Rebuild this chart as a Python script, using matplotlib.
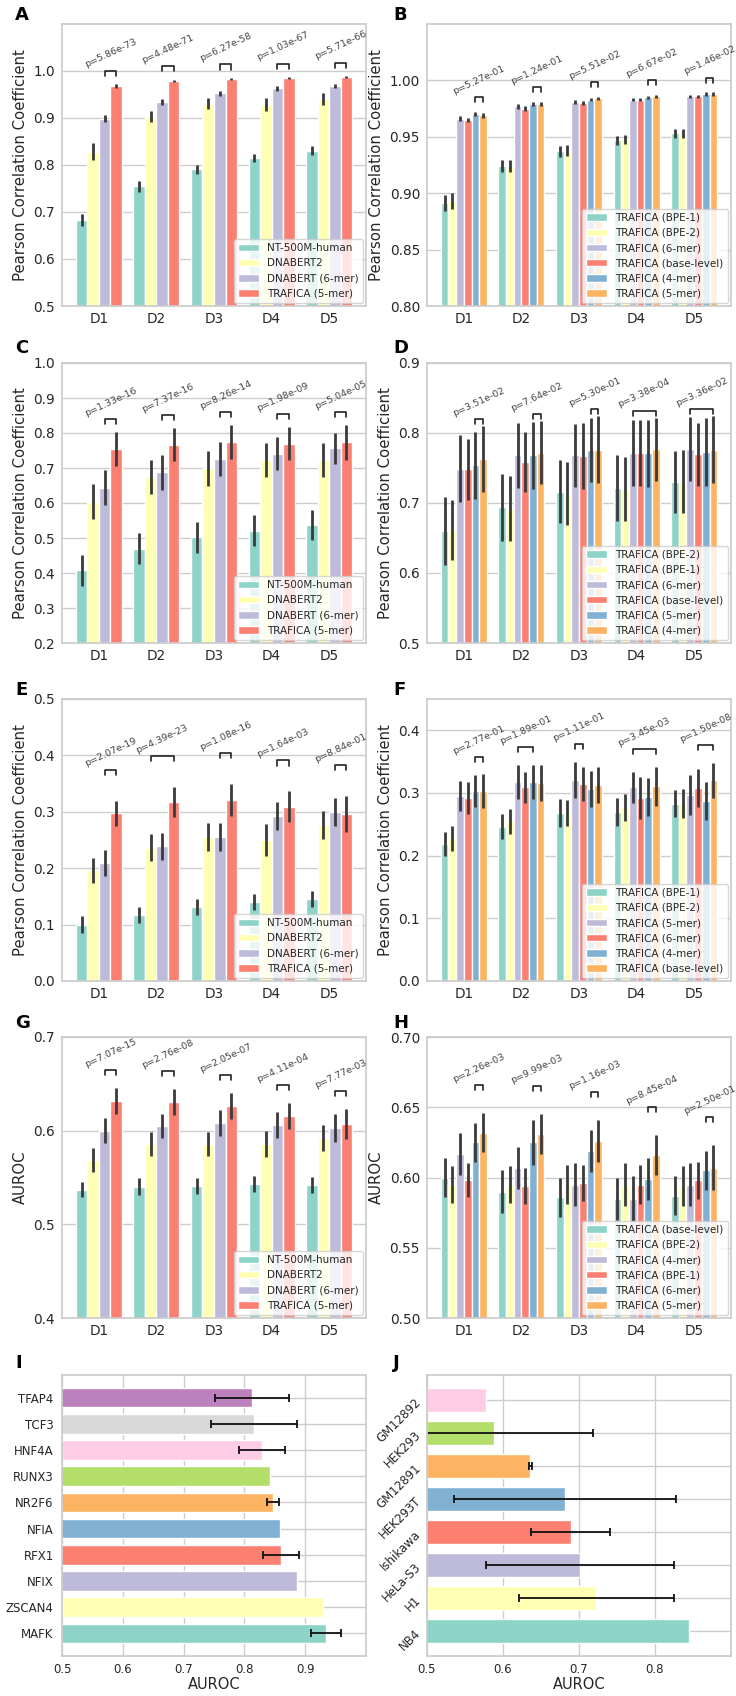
import numpy as np
import matplotlib
matplotlib.use("Agg")
import matplotlib.pyplot as plt
import seaborn as sns

sns.set_theme(style="whitegrid")
plt.rcParams["font.family"] = ["DejaVu Sans"]
plt.rcParams["xtick.labelsize"] = 9.8
plt.rcParams["ytick.labelsize"] = 9.8
plt.rcParams["axes.labelsize"] = 10.7
plt.rcParams["xtick.major.size"] = 0
plt.rcParams["ytick.major.size"] = 0
plt.rcParams["xtick.major.pad"] = 4.5
plt.rcParams["ytick.major.pad"] = 5

FIG_W, FIG_H = 736, 1696

SET3 = ["#8dd3c7", "#ffffb3", "#bebada", "#fb8072", "#80b1d3",
        "#fdb462", "#b3de69", "#fccde5", "#d9d9d9", "#bc80bd"]

datasets = ["D1", "D2", "D3", "D4", "D5"]

# ---- A: pearson, baselines ----
a_models = ["NT-500M-human", "DNABERT2", "DNABERT (6-mer)", "TRAFICA (5-mer)"]
a_mean = [[0.683, 0.754, 0.790, 0.814, 0.830],
          [0.828, 0.902, 0.930, 0.928, 0.940],
          [0.898, 0.934, 0.952, 0.962, 0.968],
          [0.968, 0.978, 0.983, 0.985, 0.987]]
a_err = [[0.013, 0.011, 0.010, 0.009, 0.009],
         [0.018, 0.012, 0.011, 0.013, 0.012],
         [0.008, 0.006, 0.005, 0.005, 0.004],
         [0.004, 0.003, 0.002, 0.002, 0.002]]
a_pairs = [(2, 3)] * 5
a_pvals = ["5.86e-73", "4.48e-71", "6.27e-58", "1.03e-67", "5.71e-66"]

# ---- B: pearson, tokenizers ----
b_models = ["TRAFICA (BPE-1)", "TRAFICA (BPE-2)", "TRAFICA (6-mer)",
            "TRAFICA (base-level)", "TRAFICA (4-mer)", "TRAFICA (5-mer)"]
b_mean = [[0.891, 0.924, 0.937, 0.947, 0.953],
          [0.893, 0.924, 0.938, 0.948, 0.953],
          [0.966, 0.977, 0.981, 0.983, 0.986],
          [0.965, 0.975, 0.980, 0.983, 0.986],
          [0.970, 0.979, 0.983, 0.985, 0.988],
          [0.969, 0.979, 0.984, 0.986, 0.988]]
b_err = [[0.007, 0.005, 0.005, 0.004, 0.004],
         [0.007, 0.005, 0.005, 0.004, 0.004],
         [0.002, 0.002, 0.0015, 0.0015, 0.0015],
         [0.002, 0.002, 0.0015, 0.0015, 0.0015],
         [0.002, 0.002, 0.0015, 0.0015, 0.0015],
         [0.002, 0.002, 0.0015, 0.0015, 0.0015]]
b_pairs = [(4, 5)] * 5
b_pvals = ["5.27e-01", "1.24e-01", "5.51e-02", "6.67e-02", "1.46e-02"]

# ---- C ----
c_models = a_models
c_mean = [[0.408, 0.470, 0.502, 0.521, 0.537],
          [0.603, 0.675, 0.700, 0.723, 0.723],
          [0.643, 0.688, 0.725, 0.741, 0.756],
          [0.755, 0.767, 0.775, 0.770, 0.773]]
c_err = [[0.044, 0.045, 0.044, 0.045, 0.044],
         [0.050, 0.048, 0.050, 0.048, 0.048],
         [0.050, 0.050, 0.048, 0.047, 0.045],
         [0.048, 0.048, 0.048, 0.048, 0.050]]
c_pairs = [(2, 3)] * 5
c_pvals = ["1.33e-16", "7.37e-16", "8.26e-14", "1.98e-09", "5.04e-05"]

# ---- D ----
d_models = ["TRAFICA (BPE-2)", "TRAFICA (BPE-1)", "TRAFICA (6-mer)",
            "TRAFICA (base-level)", "TRAFICA (5-mer)", "TRAFICA (4-mer)"]
d_mean = [[0.660, 0.694, 0.716, 0.722, 0.730],
          [0.662, 0.692, 0.713, 0.720, 0.731],
          [0.749, 0.768, 0.768, 0.772, 0.777],
          [0.748, 0.759, 0.767, 0.771, 0.770],
          [0.754, 0.768, 0.776, 0.771, 0.773],
          [0.763, 0.772, 0.776, 0.777, 0.776]]
d_err = [[0.048, 0.048, 0.045, 0.047, 0.044],
         [0.043, 0.046, 0.045, 0.046, 0.045],
         [0.048, 0.047, 0.045, 0.047, 0.046],
         [0.044, 0.043, 0.047, 0.047, 0.045],
         [0.048, 0.048, 0.046, 0.048, 0.048],
         [0.047, 0.045, 0.048, 0.045, 0.048]]
d_pairs = [(4, 5), (4, 5), (4, 5), (2, 5), (2, 5)]
d_pvals = ["3.51e-02", "7.64e-02", "5.30e-01", "3.38e-04", "3.36e-02"]

# ---- E ----
e_models = a_models
e_mean = [[0.100, 0.117, 0.131, 0.140, 0.145],
          [0.196, 0.236, 0.255, 0.250, 0.276],
          [0.210, 0.239, 0.256, 0.293, 0.299],
          [0.297, 0.317, 0.321, 0.309, 0.296]]
e_err = [[0.015, 0.014, 0.014, 0.014, 0.014],
         [0.022, 0.024, 0.025, 0.028, 0.025],
         [0.023, 0.024, 0.025, 0.025, 0.025],
         [0.023, 0.027, 0.028, 0.027, 0.032]]
e_pairs = [(2, 3), (1, 3), (2, 3), (2, 3), (2, 3)]
e_pvals = ["2.07e-19", "4.39e-23", "1.08e-16", "1.64e-03", "8.84e-01"]

# ---- F ----
f_models = ["TRAFICA (BPE-1)", "TRAFICA (BPE-2)", "TRAFICA (5-mer)",
            "TRAFICA (6-mer)", "TRAFICA (4-mer)", "TRAFICA (base-level)"]
f_mean = [[0.218, 0.246, 0.268, 0.270, 0.283],
          [0.228, 0.255, 0.268, 0.277, 0.283],
          [0.295, 0.317, 0.321, 0.309, 0.297],
          [0.292, 0.309, 0.314, 0.292, 0.308],
          [0.303, 0.318, 0.306, 0.294, 0.287],
          [0.303, 0.316, 0.313, 0.311, 0.320]]
f_err = [[0.019, 0.020, 0.023, 0.022, 0.022],
         [0.020, 0.020, 0.021, 0.022, 0.023],
         [0.024, 0.027, 0.029, 0.025, 0.032],
         [0.026, 0.025, 0.027, 0.034, 0.030],
         [0.026, 0.027, 0.029, 0.030, 0.030],
         [0.027, 0.029, 0.029, 0.031, 0.028]]
f_pairs = [(4, 5), (2, 4), (2, 3), (2, 5), (3, 5)]
f_pvals = ["2.77e-01", "1.89e-01", "1.11e-01", "3.45e-03", "1.50e-08"]

# ---- G ----
g_models = a_models
g_mean = [[0.537, 0.540, 0.541, 0.543, 0.542],
          [0.569, 0.586, 0.586, 0.586, 0.592],
          [0.600, 0.605, 0.608, 0.606, 0.603],
          [0.632, 0.631, 0.626, 0.616, 0.607]]
g_err = [[0.008, 0.009, 0.009, 0.009, 0.009],
         [0.013, 0.013, 0.013, 0.014, 0.014],
         [0.013, 0.013, 0.014, 0.014, 0.015],
         [0.014, 0.014, 0.014, 0.014, 0.016]]
g_pairs = [(2, 3)] * 5
g_pvals = ["7.07e-15", "2.76e-08", "2.05e-07", "4.11e-04", "7.77e-03"]

# ---- H ----
h_models = ["TRAFICA (base-level)", "TRAFICA (BPE-2)", "TRAFICA (4-mer)",
            "TRAFICA (BPE-1)", "TRAFICA (6-mer)", "TRAFICA (5-mer)"]
h_mean = [[0.600, 0.590, 0.586, 0.585, 0.587],
          [0.595, 0.595, 0.595, 0.595, 0.594],
          [0.617, 0.607, 0.595, 0.585, 0.595],
          [0.598, 0.594, 0.596, 0.595, 0.598],
          [0.625, 0.625, 0.619, 0.599, 0.605],
          [0.632, 0.631, 0.626, 0.616, 0.607]]
h_err = [[0.014, 0.015, 0.014, 0.015, 0.014],
         [0.013, 0.013, 0.014, 0.015, 0.014],
         [0.015, 0.015, 0.015, 0.016, 0.015],
         [0.012, 0.013, 0.013, 0.014, 0.013],
         [0.014, 0.016, 0.015, 0.015, 0.014],
         [0.014, 0.014, 0.015, 0.014, 0.016]]
h_pairs = [(4, 5)] * 5
h_pvals = ["2.26e-03", "9.99e-03", "1.16e-03", "8.45e-04", "2.50e-01"]

# ---- I: TF families (bottom to top) ----
i_labels = ["MAFK", "ZSCAN4", "NFIX", "RFX1", "NFIA",
            "NR2F6", "RUNX3", "HNF4A", "TCF3", "TFAP4"]
i_auroc = [0.934, 0.930, 0.887, 0.860, 0.859, 0.847, 0.842, 0.829, 0.816, 0.813]
i_err = [0.025, np.nan, np.nan, 0.030, np.nan, 0.010, np.nan, 0.038, 0.071, 0.061]

# ---- J: cell lines (bottom to top) ----
j_labels = ["NB4", "H1", "HeLa-S3", "Ishikawa", "HEK293T",
            "GM12891", "HEK293", "GM12892"]
j_auroc = [0.845, 0.723, 0.701, 0.689, 0.682, 0.636, 0.588, 0.578]
j_err = [np.nan, 0.102, 0.124, 0.052, 0.146, 0.002, 0.131, np.nan]


fig = plt.figure(figsize=(FIG_W / 100, FIG_H / 100), dpi=100)


def px_axes(left, top, right, bottom):
    return fig.add_axes([left / FIG_W, 1 - bottom / FIG_H,
                         (right - left) / FIG_W, (bottom - top) / FIG_H])


def panel_label(letter, x, y):
    fig.text(x / FIG_W, 1 - y / FIG_H, letter, fontsize=13, fontweight="bold",
             ha="left", va="baseline", color="black")


def grouped_bars(ax, models, means, errs, pairs, pvals, ylim, yticks,
                 ylabel, offset):
    n = len(models)
    w = 0.8 / n
    x = np.arange(len(datasets))
    means = np.array(means)
    errs = np.array(errs)
    for k in range(n):
        ax.bar(x + (k - (n - 1) / 2) * w, means[k], w, yerr=errs[k],
               color=SET3[k], label=models[k],
               error_kw=dict(ecolor="#3a3a3a", elinewidth=2.0, capsize=0))
    rng = ylim[1] - ylim[0]
    leg = 0.018 * rng
    for d, ((i, j), p) in enumerate(zip(pairs, pvals)):
        xi = d + (i - (n - 1) / 2) * w
        xj = d + (j - (n - 1) / 2) * w
        top = (means[i:j + 1, d] + errs[i:j + 1, d]).max() + offset
        ax.plot([xi, xi, xj, xj], [top - leg, top, top, top - leg],
                color="#222222", lw=1.2)
        ax.text((xi + xj) / 2, top + 0.004 * rng, "p=" + p, rotation=25,
                ha="center", va="bottom", fontsize=6.8, color="#444444")
    ax.set_xticks(x, datasets)
    ax.set_ylim(*ylim)
    ax.set_yticks(yticks)
    ax.set_ylabel(ylabel)
    ax.xaxis.grid(False)
    ax.legend(loc="lower right", fontsize=7.5, framealpha=0.8,
              borderaxespad=0.3)


def hbars(ax, labels, vals, errs, xlim, xticks, rotate=False):
    y = np.arange(len(labels))
    vals = np.array(vals)
    errs = np.array(errs)
    ax.barh(y, vals, height=0.75, color=SET3[:len(labels)])
    m = ~np.isnan(errs)
    ax.errorbar(vals[m], y[m], xerr=errs[m], fmt="none", ecolor="#111111",
                elinewidth=1.3, capsize=3, capthick=1.3)
    ax.set_yticks(y, labels)
    ax.set_xlim(*xlim)
    ax.set_xticks(xticks)
    ax.set_xlabel("AUROC", fontsize=10.5, labelpad=1)
    ax.tick_params(axis="x", labelsize=8.5, pad=5)
    ax.tick_params(axis="y", labelsize=8.5, pad=6)
    if rotate:
        for lbl in ax.get_yticklabels():
            lbl.set_rotation(45)
            lbl.set_ha("right")
            lbl.set_va("center")
            lbl.set_rotation_mode("anchor")


PCC = "Pearson Correlation Coefficient"
LX, RX = (62, 366), (427, 731)
rows = [(24, 306), (363, 643), (699, 981), (1037, 1318), (1375, 1656)]

axA = px_axes(LX[0], rows[0][0], LX[1], rows[0][1])
grouped_bars(axA, a_models, a_mean, a_err, a_pairs, a_pvals, (0.5, 1.099),
             np.arange(0.5, 1.01, 0.1), PCC, 0.028)
axB = px_axes(RX[0], rows[0][0], RX[1], rows[0][1])
grouped_bars(axB, b_models, b_mean, b_err, b_pairs, b_pvals, (0.8, 1.05),
             np.arange(0.8, 1.001, 0.05), PCC, 0.013)
axC = px_axes(LX[0], rows[1][0], LX[1], rows[1][1])
grouped_bars(axC, c_models, c_mean, c_err, c_pairs, c_pvals, (0.2, 1.0),
             np.arange(0.2, 1.01, 0.1), PCC, 0.036)
axD = px_axes(RX[0], rows[1][0], RX[1], rows[1][1])
grouped_bars(axD, d_models, d_mean, d_err, d_pairs, d_pvals, (0.5, 0.9),
             np.arange(0.5, 0.91, 0.1), PCC, 0.010)
axE = px_axes(LX[0], rows[2][0], LX[1], rows[2][1])
grouped_bars(axE, e_models, e_mean, e_err, e_pairs, e_pvals, (0.0, 0.5),
             np.arange(0.0, 0.51, 0.1), PCC, 0.055)
axF = px_axes(RX[0], rows[2][0], RX[1], rows[2][1])
grouped_bars(axF, f_models, f_mean, f_err, f_pairs, f_pvals, (0.0, 0.45),
             np.arange(0.0, 0.41, 0.1), PCC, 0.028)
axG = px_axes(LX[0], rows[3][0], LX[1], rows[3][1])
grouped_bars(axG, g_models, g_mean, g_err, g_pairs, g_pvals, (0.4, 0.7),
             np.arange(0.4, 0.71, 0.1), "AUROC", 0.019)
axH = px_axes(RX[0], rows[3][0], RX[1], rows[3][1])
grouped_bars(axH, h_models, h_mean, h_err, h_pairs, h_pvals, (0.5, 0.7),
             np.arange(0.5, 0.701, 0.05), "AUROC", 0.020)

axI = px_axes(LX[0], rows[4][0], LX[1], rows[4][1])
hbars(axI, i_labels, i_auroc, i_err, (0.5, 1.0), np.arange(0.5, 0.91, 0.1))
axJ = px_axes(RX[0], rows[4][0], RX[1], rows[4][1])
hbars(axJ, j_labels, j_auroc, j_err, (0.5, 0.9), np.arange(0.5, 0.81, 0.1),
      rotate=True)

for letter, x, y in [("A", 15, 20), ("B", 393, 20), ("C", 15, 353),
                     ("D", 393, 353), ("E", 15, 695), ("F", 393, 695),
                     ("G", 15, 1028), ("H", 393, 1028), ("I", 15, 1368),
                     ("J", 393, 1368)]:
    panel_label(letter, x, y)

fig.savefig("out.png", dpi=100)
